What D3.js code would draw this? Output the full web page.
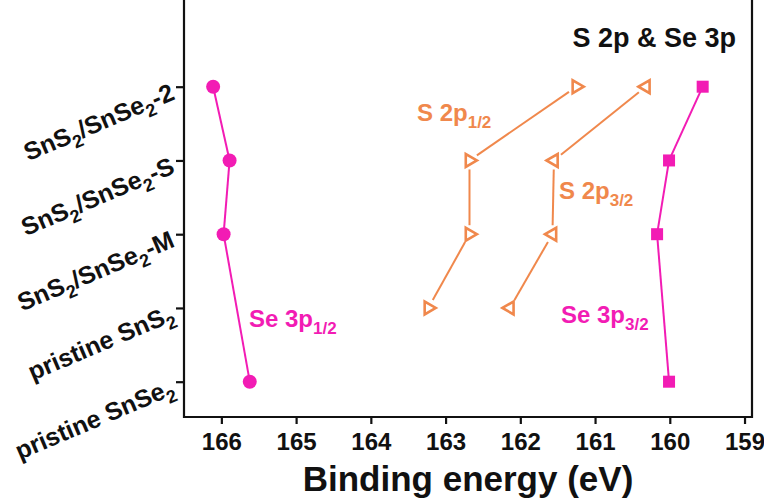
<!DOCTYPE html>
<html>
<head>
<meta charset="utf-8">
<script src="https://cdn.jsdelivr.net/npm/d3@7"></script>
<style>
  html, body { margin: 0; padding: 0; background: #fff; }
  svg { display: block; font-family: Arial, "Liberation Sans", Helvetica, sans-serif; font-weight: bold; }
</style>
</head>
<body>
<svg id="chart" width="764" height="501"></svg>
<script>
// Samples, top row first
const samples = ["SnS_{2}/SnSe_{2}-2", "SnS_{2}/SnSe_{2}-S", "SnS_{2}/SnSe_{2}-M", "pristine SnS_{2}", "pristine SnSe_{2}"];
const xTicks = [166, 165, 164, 163, 162, 161, 160, 159];

// Peak positions (eV) per sample; null = peak not present
const se3p12 = [166.11, 165.89, 165.97, null, 165.62];
const se3p32 = [159.56, 160.01, 160.17, null, 160.01];
const s2p12  = [161.25, 162.68, 162.68, 163.23, null];
const s2p32  = [160.32, 161.55, 161.57, 162.14, null];

const PINK = "#f21cb4";
const ORANGE = "#f0884c";

const series = [
  { name: "Se 3p_{1/2}", values: se3p12, color: PINK,   shape: "circle",   gap: 0, label: [249, 327] },
  { name: "Se 3p_{3/2}", values: se3p32, color: PINK,   shape: "square",   gap: 0, label: [561, 323] },
  { name: "S 2p_{1/2}",  values: s2p12,  color: ORANGE, shape: "triRight", gap: 9, label: [417, 121] },
  { name: "S 2p_{3/2}",  values: s2p32,  color: ORANGE, shape: "triLeft",  gap: 9, label: [559, 199] }
];

const svg = d3.select("#chart");
const frame = { left: 184, right: 752, top: -4, bottom: 417 };

const x = d3.scaleLinear().domain([166.5, 158.9]).range([frame.left, frame.right]);
const y = d3.scalePoint().domain(samples).range([86.7, 381.7]);

// Writes "A_{b}" style strings as text with subscript tspans
function richText(textSel, str, size) {
  const re = /_\{([^}]*)\}/g;
  let last = 0, m, shifted = false;
  const subSize = Math.round(size * 0.7);
  const drop = size * 0.28;
  while ((m = re.exec(str)) !== null) {
    if (m.index > last) {
      textSel.append("tspan").attr("font-size", size)
        .attr("dy", shifted ? -drop : 0).text(str.slice(last, m.index));
      shifted = false;
    }
    textSel.append("tspan").attr("font-size", subSize).attr("dy", shifted ? 0 : drop).text(m[1]);
    shifted = true;
    last = re.lastIndex;
  }
  if (last < str.length) {
    textSel.append("tspan").attr("font-size", size)
      .attr("dy", shifted ? -drop : 0).text(str.slice(last));
  }
}

// Frame (left, bottom, right)
svg.append("path")
  .attr("d", `M${frame.left},${frame.top}V${frame.bottom}H${frame.right}V${frame.top}`)
  .attr("fill", "none").attr("stroke", "#111").attr("stroke-width", 2.2);

// X axis
const xAxis = svg.append("g")
  .attr("transform", `translate(0,${frame.bottom})`)
  .call(d3.axisBottom(x).tickValues(xTicks).tickFormat(d3.format("d")).tickSize(7).tickSizeOuter(0).tickPadding(9));
xAxis.select(".domain").remove();
xAxis.selectAll(".tick line").attr("stroke", "#111").attr("stroke-width", 2.2);
xAxis.selectAll(".tick text")
  .attr("fill", "#111").attr("font-size", 24)
  .attr("font-family", "Arial, 'Liberation Sans', sans-serif").attr("font-weight", "bold");

// Y axis ticks
const yAxis = svg.append("g")
  .attr("transform", `translate(${frame.left},0)`)
  .call(d3.axisLeft(y).tickSize(8).tickSizeOuter(0).tickFormat(""));
yAxis.select(".domain").remove();
yAxis.selectAll(".tick line").attr("stroke", "#111").attr("stroke-width", 2.2);

// Rotated sample labels
samples.forEach(s => {
  const t = svg.append("text")
    .attr("text-anchor", "end")
    .attr("fill", "#111")
    .attr("transform", `translate(${frame.left - 8},${y(s) + 12}) rotate(-23)`);
  richText(t, s, 25);
});

// Axis title
svg.append("text")
  .attr("x", (frame.left + frame.right) / 2)
  .attr("y", 491)
  .attr("text-anchor", "middle")
  .attr("font-size", 35)
  .attr("fill", "#111")
  .text("Binding energy (eV)");

// Panel title
svg.append("text")
  .attr("x", 736).attr("y", 47)
  .attr("text-anchor", "end")
  .attr("font-size", 27)
  .attr("fill", "#111")
  .text("S 2p & Se 3p");

// Series
series.forEach(sr => {
  const pts = sr.values
    .map((v, i) => v == null ? null : [x(v), y(samples[i])])
    .filter(p => p);
  const g = svg.append("g");

  // connecting segments, trimmed near hollow markers
  for (let i = 0; i < pts.length - 1; i++) {
    const [x0, y0] = pts[i], [x1, y1] = pts[i + 1];
    const len = Math.hypot(x1 - x0, y1 - y0);
    const ux = (x1 - x0) / len, uy = (y1 - y0) / len;
    g.append("line")
      .attr("x1", x0 + ux * sr.gap).attr("y1", y0 + uy * sr.gap)
      .attr("x2", x1 - ux * sr.gap).attr("y2", y1 - uy * sr.gap)
      .attr("stroke", sr.color).attr("stroke-width", 2);
  }

  pts.forEach(([px, py]) => {
    if (sr.shape === "circle") {
      g.append("circle").attr("cx", px).attr("cy", py).attr("r", 7).attr("fill", sr.color);
    } else if (sr.shape === "square") {
      g.append("rect").attr("x", px - 6).attr("y", py - 6)
        .attr("width", 12).attr("height", 12).attr("fill", sr.color);
    } else {
      const rot = sr.shape === "triRight" ? 90 : -90;
      g.append("path")
        .attr("d", d3.symbol(d3.symbolTriangle, 72)())
        .attr("transform", `translate(${px},${py}) rotate(${rot})`)
        .attr("fill", "none").attr("stroke", sr.color)
        .attr("stroke-width", 2.6).attr("stroke-linejoin", "miter");
    }
  });

  const lt = svg.append("text")
    .attr("x", sr.label[0]).attr("y", sr.label[1])
    .attr("fill", sr.color);
  richText(lt, sr.name, 24);
});
</script>
</body>
</html>
